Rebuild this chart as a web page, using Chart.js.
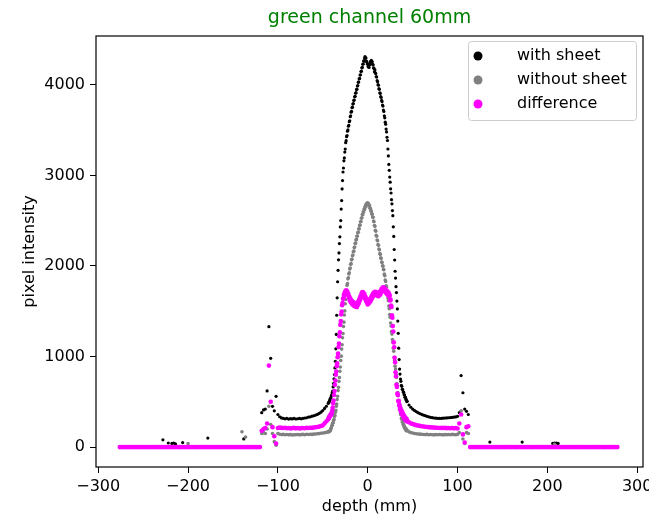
<!DOCTYPE html>
<html>
<head>
<meta charset="utf-8">
<script src="https://cdn.jsdelivr.net/npm/chart.js@4.4.0/dist/chart.umd.min.js"></script>
<style>
  body { margin: 0; background: #fff; }
  canvas { display: block; }
</style>
</head>
<body>
<canvas id="chart" width="649" height="519"></canvas>
<script>
// depth grid: 2 mm steps on the flanks, 0.5 mm across the central peak
function steps(from, to, step) {
  var out = [];
  for (var d = from; d <= to + 1e-9; d += step) out.push(+d.toFixed(1));
  return out;
}
const depth = steps(-276, -46, 2).concat(steps(-44, 44, 0.5), steps(46, 278, 2));

const xTicks = [-300, -200, -100, 0, 100, 200, 300];
const yTicks = [0, 1000, 2000, 3000, 4000];

// with sheet
const withSheet = [
  // -276 .. -46
  0,0,0,0,0,0,0,0,0,0,
  0,0,0,0,0,0,0,0,0,0,
  0,0,0,0,80,0,0,45,0,40,
  45,35,0,0,0,50,0,0,0,0,
  0,0,0,0,0,0,0,0,0,100,
  0,0,0,0,0,0,0,0,0,0,
  0,0,0,0,0,0,0,0,0,90,
  0,0,0,0,0,0,0,0,0,380,
  410,420,620,1330,980,450,400,560,360,335,
  322,318,312,316,309,314,311,317,310,313,
  316,312,318,321,324,331,334,341,346,353,
  361,372,386,404,427,451,
  // -44 .. 44
  482,494,498,513,521,538,546,565,
  576,601,619,664,702,754,801,874,
  948,1085,1244,1456,1648,1826,1952,2068,
  2144,2248,2322,2431,2502,2628,2722,2851,
  2943,3038,3082,3161,3194,3258,3291,3362,
  3384,3428,3441,3489,3503,3544,3552,3594,
  3603,3648,3658,3699,3708,3748,3754,3788,
  3794,3828,3833,3868,3874,3908,3914,3948,
  3953,3988,3993,4028,4033,4068,4072,4108,
  4112,4148,4152,4188,4193,4228,4232,4266,
  4262,4296,4312,4294,4298,4262,4256,4232,
  4236,4204,4198,4192,4221,4228,4256,4252,
  4271,4254,4256,4228,4221,4188,4182,4144,
  4166,4132,4126,4092,4086,4048,4036,4002,
  3996,3958,3951,3912,3906,3872,3861,3828,
  3816,3778,3766,3722,3706,3658,3636,3588,
  3566,3512,3481,3422,3386,3292,3216,3122,
  3056,2982,2926,2852,2806,2732,2686,2612,
  2556,2432,2326,2182,2066,1942,1866,1772,
  1706,1612,1526,1392,1256,1092,966,862,
  806,752,726,682,671,638,636,608,
  606,578,576,551,549,526,524,503,
  506,
  // 46 .. 278
  465,440,420,405,392,380,370,362,354,347,
  340,334,329,325,321,319,318,316,318,319,
  321,322,324,326,328,331,333,340,380,790,
  600,420,395,360,0,0,0,0,0,0,
  0,0,0,0,0,55,0,0,0,0,
  0,0,0,0,0,0,0,0,0,0,
  0,0,0,55,0,0,0,0,0,0,
  0,0,0,0,0,0,0,0,0,0,
  40,45,45,40,0,0,0,0,0,0,
  0,0,0,0,0,0,0,0,0,0,
  0,0,0,0,0,0,0,0,0,0,
  0,0,0,0,0,0,0
];

// without sheet
const withoutSheet = [
  // -276 .. -46
  0,0,0,0,0,0,0,0,0,0,
  0,0,0,0,0,0,0,0,0,0,
  0,0,0,0,0,0,0,0,0,0,
  0,0,0,0,0,0,0,0,40,0,
  0,0,0,0,0,0,0,0,0,0,
  0,0,0,0,0,0,0,0,0,0,
  0,0,0,0,0,0,0,0,170,0,
  110,0,0,0,0,0,0,0,0,150,
  160,150,200,450,250,150,60,20,150,142,
  138,140,136,139,135,138,134,137,136,139,
  135,138,140,137,141,139,142,140,143,145,
  147,149,152,155,158,162,
  // -44 .. 44
  171,166,175,172,181,187,206,212,
  236,240,263,268,294,305,338,350,
  386,406,451,476,526,562,624,661,
  726,768,838,884,956,1004,1082,1130,
  1208,1254,1332,1380,1458,1504,1583,1630,
  1708,1732,1786,1806,1858,1870,1912,1924,
  1968,1978,2018,2026,2068,2074,2112,2120,
  2158,2164,2203,2210,2248,2252,2288,2292,
  2328,2332,2368,2372,2408,2412,2448,2452,
  2488,2492,2528,2532,2568,2567,2598,2597,
  2628,2624,2653,2650,2678,2670,2693,2682,
  2698,2678,2686,2662,2668,2637,2638,2607,
  2608,2574,2573,2540,2538,2497,2488,2447,
  2438,2394,2383,2340,2328,2287,2278,2237,
  2228,2187,2178,2137,2128,2090,2083,2044,
  2038,2002,1998,1962,1958,1910,1893,1844,
  1828,1782,1768,1722,1708,1647,1618,1557,
  1528,1464,1433,1370,1338,1277,1248,1187,
  1158,1092,1058,992,958,894,863,800,
  768,702,668,602,568,512,488,432,
  408,367,358,317,308,277,278,247,
  248,222,228,202,208,187,198,177,
  186,
  // 46 .. 278
  168,160,155,150,147,145,143,141,139,138,
  140,136,139,137,135,138,136,139,137,135,
  138,136,139,137,140,138,136,140,160,400,
  90,40,160,150,0,0,0,0,0,0,
  0,0,0,0,0,0,0,0,0,0,
  0,0,0,0,0,0,0,0,0,0,
  0,0,0,0,0,0,0,0,0,0,
  0,0,0,0,0,0,0,0,0,0,
  0,30,0,0,0,0,0,0,0,0,
  0,0,0,0,0,0,0,0,0,0,
  0,0,0,0,0,0,0,0,0,0,
  0,0,0,0,0,0,0
];

// difference
const difference = [
  // -276 .. -46
  0,0,0,0,0,0,0,0,0,0,
  0,0,0,0,0,0,0,0,0,0,
  0,0,0,0,0,0,0,0,0,0,
  0,0,0,0,0,0,0,0,0,0,
  0,0,0,0,0,0,0,0,0,0,
  0,0,0,0,0,0,0,0,0,0,
  0,0,0,0,0,0,0,0,0,0,
  0,0,0,0,0,0,0,0,0,180,
  200,210,260,900,500,220,120,40,210,215,
  212,210,214,208,211,206,209,212,207,210,
  205,209,211,208,213,210,214,212,216,219,
  222,226,232,240,262,285,
  // -44 .. 44
  306,322,321,340,341,357,355,372,
  371,405,436,484,515,576,620,688,
  734,798,835,893,924,993,1034,1104,
  1143,1224,1268,1350,1392,1466,1498,1566,
  1592,1638,1642,1682,1672,1710,1698,1730,
  1710,1728,1694,1714,1680,1690,1648,1662,
  1618,1640,1602,1626,1588,1612,1578,1602,
  1566,1596,1560,1590,1556,1586,1550,1580,
  1546,1588,1568,1608,1586,1630,1612,1656,
  1636,1680,1662,1706,1688,1712,1676,1702,
  1666,1686,1640,1660,1616,1638,1596,1618,
  1576,1612,1586,1622,1596,1636,1610,1650,
  1626,1668,1646,1688,1666,1702,1676,1712,
  1686,1716,1680,1710,1676,1706,1670,1700,
  1666,1702,1676,1712,1686,1728,1706,1748,
  1726,1760,1730,1766,1736,1758,1720,1746,
  1706,1732,1696,1722,1686,1712,1676,1702,
  1664,1678,1620,1628,1564,1548,1456,1428,
  1336,1276,1156,1102,986,936,826,782,
  688,664,592,576,508,510,458,466,
  418,432,394,406,368,384,348,364,
  328,346,314,330,298,318,288,306,
  282,
  // 46 .. 278
  275,262,255,248,242,238,234,230,227,224,
  222,220,218,216,215,213,214,211,212,210,
  212,209,211,208,210,207,210,205,260,360,
  140,50,220,230,0,0,0,0,0,0,
  0,0,0,0,0,0,0,0,0,0,
  0,0,0,0,0,0,0,0,0,0,
  0,0,0,0,0,0,0,0,0,0,
  0,0,0,0,0,0,0,0,0,0,
  0,0,0,0,0,0,0,0,0,0,
  0,0,0,0,0,0,0,0,0,0,
  0,0,0,0,0,0,0,0,0,0,
  0,0,0,0,0,0,0
];

function points(vals) {
  return depth.map(function (d, i) { return { x: d, y: vals[i] }; });
}

function tickText(v) {
  return v < 0 ? '\u2212' + Math.abs(v) : String(v);
}

Chart.defaults.font.family = 'DejaVu Sans';
Chart.defaults.color = '#000';

// box around the axes plus the legend in the upper right corner
const frameLegend = {
  id: 'frameLegend',
  afterDraw: function (chart) {
    const ctx = chart.ctx;
    const a = chart.chartArea;
    ctx.save();
    ctx.strokeStyle = '#000';
    ctx.lineWidth = 1.2;
    ctx.strokeRect(a.left, a.top, a.right - a.left, a.bottom - a.top);

    const w = 168, h = 79;
    const left = a.right - 7 - w, top = a.top + 5;
    ctx.beginPath();
    ctx.roundRect(left + 0.5, top + 0.5, w, h, 3);
    ctx.fillStyle = 'rgba(255,255,255,0.8)';
    ctx.fill();
    ctx.strokeStyle = '#cccccc';
    ctx.lineWidth = 1;
    ctx.stroke();

    ctx.font = '16px "DejaVu Sans"';
    ctx.textBaseline = 'middle';
    ctx.textAlign = 'left';
    chart.data.datasets.forEach(function (ds, k) {
      const y = top + 15 + 24 * k;
      ctx.beginPath();
      ctx.arc(left + 10, y, 4.5, 0, Math.PI * 2);
      ctx.fillStyle = ds.backgroundColor;
      ctx.fill();
      ctx.fillStyle = '#000';
      ctx.fillText(ds.label, left + 49, y);
    });
    ctx.restore();
  }
};

new Chart(document.getElementById('chart'), {
  type: 'scatter',
  data: {
    datasets: [
      { label: 'with sheet', data: points(withSheet), backgroundColor: '#000000',
        pointRadius: 1.6, pointBorderWidth: 0, borderWidth: 0, order: 3 },
      { label: 'without sheet', data: points(withoutSheet), backgroundColor: '#808080',
        pointRadius: 1.8, pointBorderWidth: 0, borderWidth: 0, order: 2 },
      { label: 'difference', data: points(difference), backgroundColor: '#ff00ff',
        pointRadius: 2.3, pointBorderWidth: 0, borderWidth: 0, order: 1 }
    ]
  },
  options: {
    responsive: false,
    animation: false,
    events: [],
    layout: { padding: { left: 0, right: 6, top: 0, bottom: 0 } },
    plugins: {
      legend: { display: false },
      tooltip: { enabled: false },
      title: {
        display: true,
        fullSize: false,
        text: 'green channel 60mm',
        color: '#008000',
        font: { size: 19, weight: 'normal', lineHeight: 1 },
        padding: { top: 9, bottom: 8 }
      }
    },
    scales: {
      x: {
        type: 'linear',
        min: -302.5,
        max: 306.5,
        afterBuildTicks: function (s) { s.ticks = xTicks.map(function (v) { return { value: v }; }); },
        afterFit: function (s) { s.height = 52; s.paddingLeft = 0; s.paddingRight = 0; },
        grid: { display: true, drawOnChartArea: false, tickLength: 6, color: '#000' },
        border: { display: false },
        ticks: { padding: 4, maxRotation: 0, font: { size: 16 }, callback: tickText },
        title: { display: true, text: 'depth (mm)', font: { size: 16 }, padding: { top: 0, bottom: 3 } }
      },
      y: {
        type: 'linear',
        min: -220,
        max: 4540,
        afterBuildTicks: function (s) { s.ticks = yTicks.map(function (v) { return { value: v }; }); },
        afterFit: function (s) { s.width = 96; s.paddingTop = 0; s.paddingBottom = 0; },
        grid: { display: true, drawOnChartArea: false, tickLength: 6, color: '#000' },
        border: { display: false },
        ticks: { padding: 5, font: { size: 16 }, callback: tickText },
        title: { display: true, text: 'pixel intensity', font: { size: 16 }, padding: { top: 20, bottom: 0 } }
      }
    }
  },
  plugins: [frameLegend]
});
</script>
</body>
</html>
